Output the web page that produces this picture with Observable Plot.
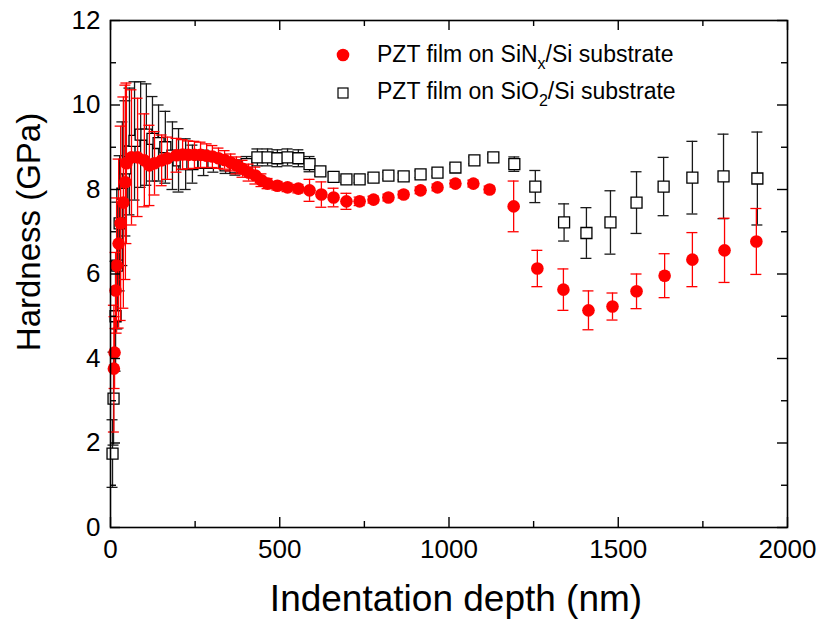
<!DOCTYPE html>
<html>
<head>
<meta charset="utf-8">
<script src="https://cdn.jsdelivr.net/npm/d3@7"></script>
<script src="https://cdn.jsdelivr.net/npm/@observablehq/plot@0.6"></script>
<style>
  html, body { margin: 0; padding: 0; background: #fff; }
  #chart svg { display: block; }
</style>
</head>
<body>
<div id="chart"></div>
<script>
// PZT film on SiNx/Si substrate (red filled circles)
const depthN = [10,12,15,18,24,30,38,44,47,62,80,100,115,130,151,168,195,213,230,248,266,284,301,319,337,355,372,390,408,428,446,464,493,523,555,588,623,659,697,736,777,821,866,916,966,1019,1072,1120,1191,1261,1338,1412,1483,1554,1637,1719,1814,1908];
const hardN = [3.76,4.14,5.61,6.2,6.72,7.2,7.69,8.17,8.62,8.76,8.76,8.69,8.57,8.62,8.69,8.74,8.81,8.83,8.82,8.82,8.82,8.8,8.78,8.74,8.7,8.64,8.57,8.49,8.4,8.33,8.22,8.14,8.09,8.05,8.02,7.98,7.88,7.81,7.72,7.72,7.76,7.81,7.88,7.98,8.05,8.14,8.14,8.0,7.6,6.13,5.63,5.14,5.23,5.59,5.96,6.34,6.56,6.77];
const errN = [1.5,0.85,0.9,1.6,2.0,2.3,2.5,2.3,1.9,1.6,1.4,1.1,0.95,0.75,0.6,0.5,0.4,0.35,0.33,0.32,0.3,0.28,0.26,0.24,0.22,0.2,0.2,0.2,0.2,0.2,0.15,0.12,0.1,0.1,0.1,0.26,0.3,0.22,0.19,0.1,0.08,0.08,0.08,0.08,0.08,0.08,0.08,0.08,0.6,0.43,0.49,0.46,0.32,0.41,0.52,0.64,0.76,0.78];

// PZT film on SiO2/Si substrate (open squares)
const depthO = [6,9,15,20,27,35,44,56,71,89,106,124,142,162,183,201,222,242,275,304,340,369,402,434,464,493,523,555,588,620,659,697,736,777,821,866,916,966,1019,1075,1131,1193,1255,1340,1406,1477,1554,1634,1719,1811,1911];
const hardO = [1.75,3.05,5.0,6.2,7.2,7.9,8.5,8.9,9.15,9.3,9.3,9.2,9.1,9.0,8.8,8.69,8.6,8.6,8.63,8.63,8.57,8.52,8.6,8.76,8.76,8.74,8.76,8.74,8.6,8.43,8.3,8.24,8.24,8.28,8.33,8.31,8.36,8.4,8.52,8.69,8.76,8.6,8.07,7.22,6.97,7.22,7.69,8.07,8.28,8.31,8.26];
const errO = [0.8,1.1,1.3,1.5,1.6,1.7,1.6,1.5,1.4,1.25,1.2,1.0,0.9,0.85,0.8,0.75,0.6,0.45,0.3,0.22,0.19,0.18,0.18,0.2,0.2,0.2,0.2,0.2,0.18,0.1,0.1,0.08,0.08,0.08,0.08,0.08,0.08,0.08,0.08,0.08,0.08,0.17,0.38,0.44,0.6,0.75,0.73,0.69,0.86,1.0,1.1];

const xMajor = [0, 500, 1000, 1500, 2000];
const xMinor = [250, 750, 1250, 1750];
const yMajor = [0, 2, 4, 6, 8, 10, 12];
const yMinor = [1, 3, 5, 7, 9, 11];
const xLabel = "Indentation depth (nm)";
const yLabel = "Hardness (GPa)";
const legendN = ["PZT film on SiN", "x", "/Si substrate"];
const legendO = ["PZT film on SiO", "2", "/Si substrate"];

const N = depthN.map((x, i) => ({x, y: hardN[i], e: errN[i]}));
const O = depthO.map((x, i) => ({x, y: hardO[i], e: errO[i]}));

const FONT = "'Liberation Sans', Arial, Helvetica, sans-serif";
const RED = "#ff0000";
const CAP = 5.5;

function errMarks(data, color) {
  return [
    Plot.ruleX(data, {x: "x", y1: d => d.y - d.e, y2: d => d.y + d.e, stroke: color, strokeWidth: 1.3}),
    Plot.ruleY(data, {y: d => d.y + d.e, x1: "x", x2: "x", insetLeft: -CAP, insetRight: -CAP, stroke: color, strokeWidth: 1.3}),
    Plot.ruleY(data, {y: d => d.y - d.e, x1: "x", x2: "x", insetLeft: -CAP, insetRight: -CAP, stroke: color, strokeWidth: 1.3})
  ];
}

const chart = Plot.plot({
  width: 822,
  height: 623,
  marginLeft: 110,
  marginRight: 35,
  marginTop: 20,
  marginBottom: 96,
  style: {fontFamily: FONT, background: "#fff", color: "#000"},
  x: {domain: [0, 2000]},
  y: {domain: [0, 12]},
  marks: [
    ...errMarks(O, "#1a1a1a"),
    Plot.dot(O, {x: "x", y: "y", symbol: "square", r: 6.2, fill: "#fff", stroke: "#000", strokeWidth: 1.3}),
    ...errMarks(N, RED),
    Plot.dot(N, {x: "x", y: "y", r: 6.3, fill: RED, stroke: "none"}),
    Plot.frame({stroke: "#000", strokeWidth: 1.6}),
    Plot.ruleX(xMajor, {x: d => d, y1: 0, y2: 0, insetTop: -10, stroke: "#000", strokeWidth: 1.4}),
    Plot.ruleX(xMinor, {x: d => d, y1: 0, y2: 0, insetTop: -6, stroke: "#000", strokeWidth: 1.4}),
    Plot.ruleX(xMajor, {x: d => d, y1: 12, y2: 12, insetBottom: -10, stroke: "#000", strokeWidth: 1.4}),
    Plot.ruleX(xMinor, {x: d => d, y1: 12, y2: 12, insetBottom: -6, stroke: "#000", strokeWidth: 1.4}),
    Plot.ruleY(yMajor, {y: d => d, x1: 0, x2: 0, insetRight: -10, stroke: "#000", strokeWidth: 1.4}),
    Plot.ruleY(yMinor, {y: d => d, x1: 0, x2: 0, insetRight: -6, stroke: "#000", strokeWidth: 1.4}),
    Plot.ruleY(yMajor, {y: d => d, x1: 2000, x2: 2000, insetLeft: -10, stroke: "#000", strokeWidth: 1.4}),
    Plot.ruleY(yMinor, {y: d => d, x1: 2000, x2: 2000, insetLeft: -6, stroke: "#000", strokeWidth: 1.4}),
    Plot.axisX({ticks: xMajor, tickSize: 0, tickPadding: 12, fontSize: 26, label: null, tickFormat: d => String(d)}),
    Plot.axisY({ticks: yMajor, tickSize: 0, tickPadding: 10, fontSize: 26, label: null, tickFormat: d => String(d)}),
    Plot.text([xLabel], {text: d => d, frameAnchor: "bottom", textAnchor: "middle", lineAnchor: "middle", dy: 72, dx: 7, fontSize: 37, fill: "#000"}),
    Plot.text([yLabel], {text: d => d, frameAnchor: "left", textAnchor: "middle", lineAnchor: "middle", dx: -81, dy: -42, rotate: -90, fontSize: 33, fill: "#000"})
  ]
});

document.getElementById("chart").appendChild(chart);

// Legend inside the plot area
const svg = d3.select(chart);
const lg = svg.append("g").attr("font-family", FONT).attr("font-size", 23).attr("fill", "#000").attr("text-anchor", "start");
lg.append("circle").attr("cx", 343).attr("cy", 55).attr("r", 6.3).attr("fill", RED);
const t1 = lg.append("text").attr("x", 377).attr("y", 62).attr("text-anchor", "start");
t1.append("tspan").text(legendN[0]);
t1.append("tspan").attr("dy", 7).attr("font-size", 16).text(legendN[1]);
t1.append("tspan").attr("dy", -7).text(legendN[2]);
lg.append("rect").attr("x", 338).attr("y", 88).attr("width", 10).attr("height", 10)
  .attr("fill", "#fff").attr("stroke", "#000").attr("stroke-width", 1.2);
const t2 = lg.append("text").attr("x", 377).attr("y", 99).attr("text-anchor", "start");
t2.append("tspan").text(legendO[0]);
t2.append("tspan").attr("dy", 7).attr("font-size", 16).text(legendO[1]);
t2.append("tspan").attr("dy", -7).text(legendO[2]);
</script>
</body>
</html>
